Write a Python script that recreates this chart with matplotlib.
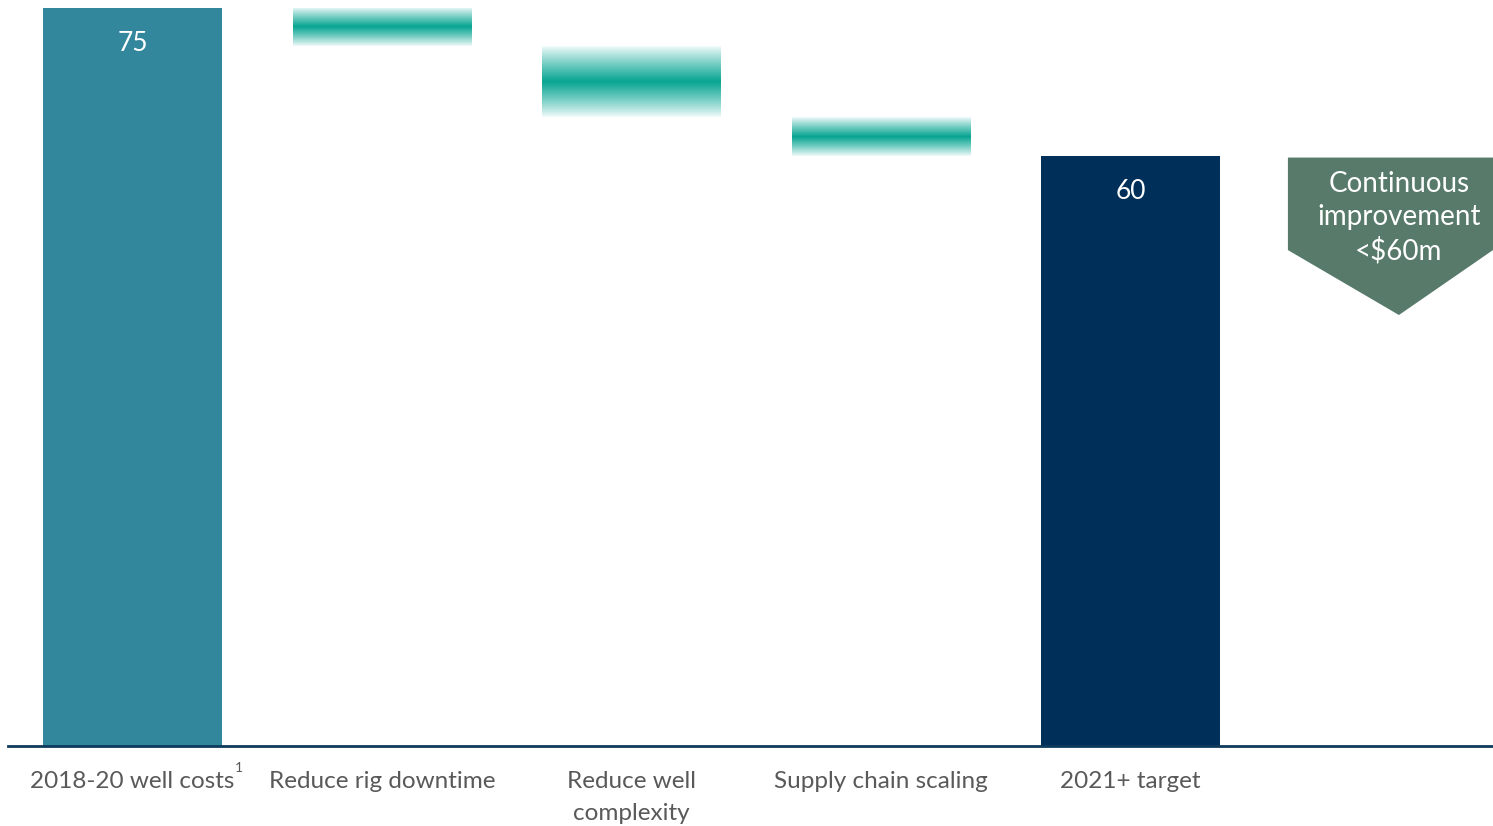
import matplotlib.pyplot as plt
import numpy as np
from matplotlib.colors import LinearSegmentedColormap
import matplotlib.patches as patches

plt.rcParams['font.family'] = ['Lato', 'DejaVu Sans']

# dados
categorias = ["2018-20 well costs", "Reduce rig downtime", "Reduce well\ncomplexity",
              "Supply chain scaling", "2021+ target"]
valor_inicial = 75
passos = [-3.9, -7.2, -3.9]
valor_final = 60
nota_seta = "Continuous\nimprovement\n<$60m"

cor_inicial = '#33879C'
cor_final = '#002F5A'
cor_seta = '#577A6A'
cor_texto = '#595959'
largura = 0.717

fig = plt.figure(figsize=(14.93, 8.26), dpi=100)
ax = fig.add_axes([8 / 1493, 80 / 826, 1485 / 1493, 738 / 826])

# barras cheias
ax.bar(0, valor_inicial, width=largura, color=cor_inicial)
ax.bar(len(categorias) - 1, valor_final, width=largura, color=cor_final)
ax.text(0, valor_inicial - 3.6, str(valor_inicial), ha='center', va='center', color='white', fontsize=19)
ax.text(len(categorias) - 1, valor_final - 3.6, str(valor_final), ha='center', va='center', color='white', fontsize=19)

# barras flutuantes com degradê
cmap = LinearSegmentedColormap.from_list('teal', ['#F2FBFB', '#08A592'])
perfil = 1 - np.abs(np.linspace(-1, 1, 101))
grad = perfil[:, None] ** 0.9
nivel = valor_inicial
for i, p in enumerate(passos, start=1):
    topo, base = nivel, nivel + p
    ax.imshow(grad, cmap=cmap, vmin=0, vmax=1, aspect='auto', interpolation='bilinear',
              extent=[i - largura / 2, i + largura / 2, base, topo], zorder=2)
    nivel = base

# seta "continuous improvement"
xc = len(categorias) + 0.076
x0, x1 = len(categorias) - 0.369, len(categorias) + 0.453
seta = patches.Polygon([[x0, 59.8], [x1, 59.8], [x1, 50.4], [xc, 43.8], [x0, 50.4]],
                       closed=True, facecolor=cor_seta, edgecolor='none', zorder=3)
ax.add_patch(seta)
ax.text(len(categorias) + 0.075, 53.7, nota_seta, ha='center', va='center', color='white',
        fontsize=20, linespacing=1.33, zorder=4)

ax.set_xlim(-0.499, len(categorias) + 0.453)
ax.set_ylim(0, 75)
for s in ['top', 'right', 'left']:
    ax.spines[s].set_visible(False)
ax.spines['bottom'].set_color('#0E3A5C')
ax.spines['bottom'].set_linewidth(2)
ax.set_yticks([])
ax.set_xticks(range(len(categorias)))
ax.set_xticklabels(categorias, fontsize=17.5, color=cor_texto, linespacing=1.62)
ax.tick_params(axis='x', length=0, pad=18)

# nota de rodapé "1"
ax.annotate("1", xy=(0, 0), xytext=(106, -22), textcoords='offset pixels',
            fontsize=10, color=cor_texto, ha='center', va='center', annotation_clip=False)

fig.savefig('out.png', dpi=100)
